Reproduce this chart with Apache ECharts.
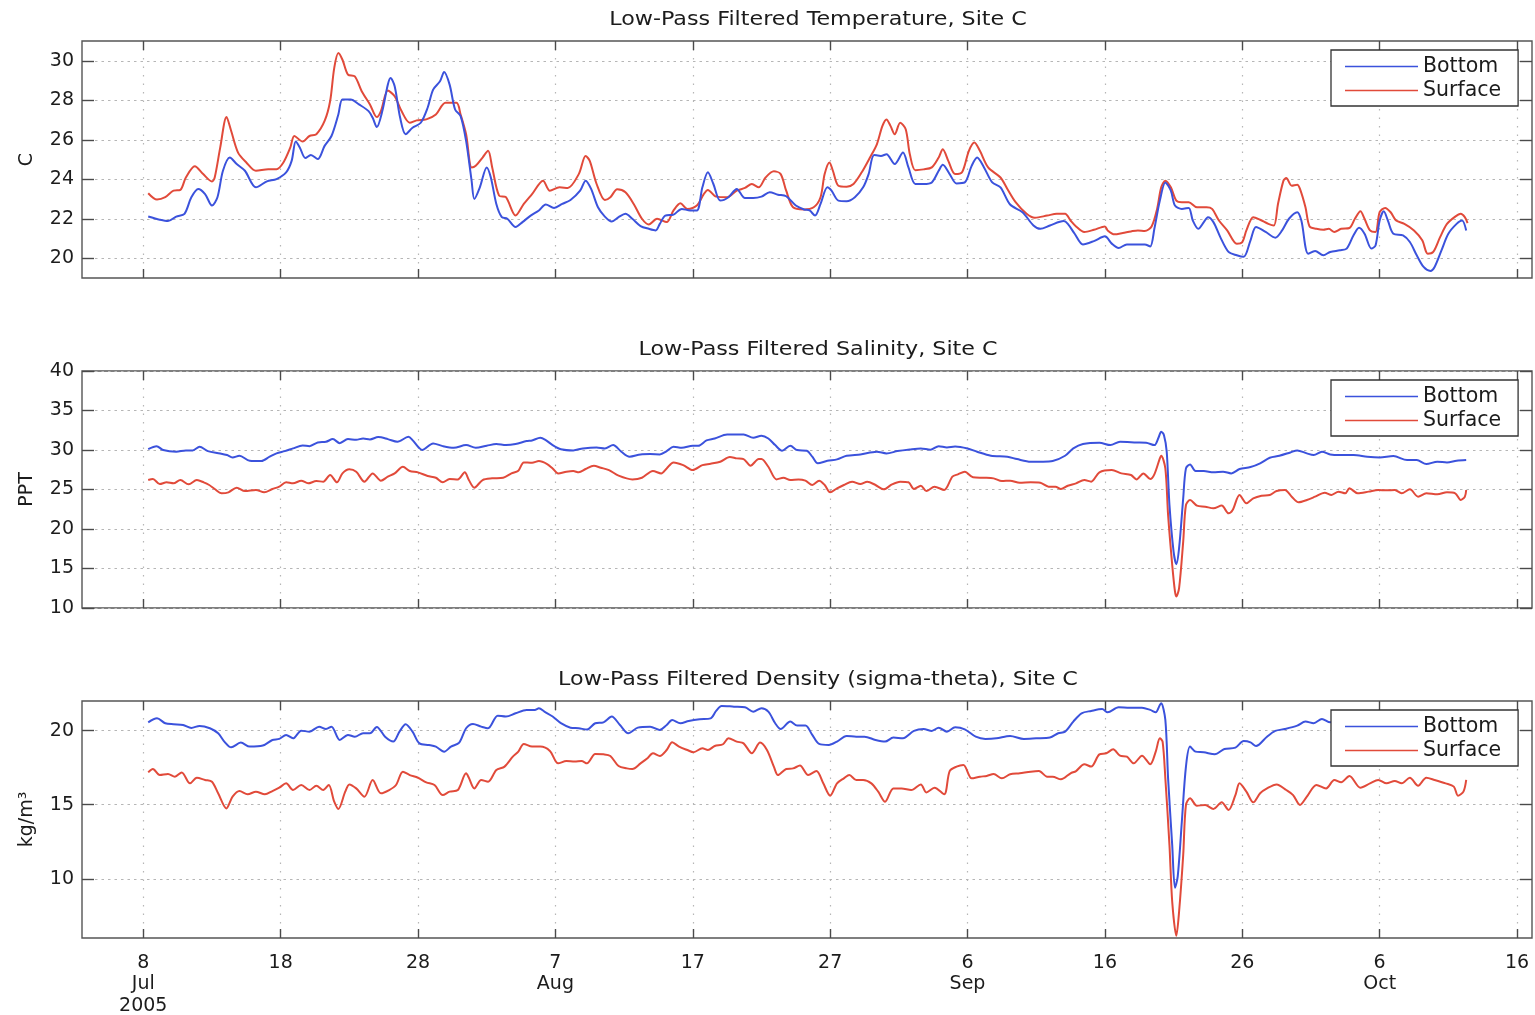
<!DOCTYPE html>
<html>
<head>
<meta charset="utf-8">
<script src="https://cdn.jsdelivr.net/npm/echarts@6/dist/echarts.min.js"></script>
<style>
  html, body { margin: 0; padding: 0; background: #fff; }
  #chart { width: 1535px; height: 1015px; }
</style>
</head>
<body>
<div id="chart"></div>
<script>
// Time is in days after 8 Jul 2005 00:00 (the first labelled tick).
const dayTicks = [0, 10, 20, 30, 40, 50, 60, 70, 80, 90, 100];
const dayTickLabels = ['8\nJul\n2005', '18', '28', '7\nAug', '17', '27', '6\nSep', '16', '26', '6\nOct', '16'];
const dayMin = -4.46, dayMax = 101.09;

const panelTitles = [
  'Low-Pass Filtered Temperature, Site C',
  'Low-Pass Filtered Salinity, Site C',
  'Low-Pass Filtered Density (sigma-theta), Site C'
];
const panelUnits = ['C', 'PPT', 'kg/m\u00b3'];
const tempTicks = [20, 22, 24, 26, 28, 30];
const salTicks = [10, 15, 20, 25, 30, 35, 40];
const densTicks = [10, 15, 20];
const seriesNames = ['Bottom', 'Surface'];

// Temperature (C)
const tempBottom = [
  [0.36,22.11],[1.2,21.95],[1.8,21.88],[2.4,22.11],[3.0,22.25],[3.5,23.09],[4.0,23.51],[4.5,23.25],[5.0,22.67],[5.4,23.09],
  [5.8,24.43],[6.3,25.1],[6.8,24.77],[7.4,24.43],[8.2,23.59],[9.0,23.89],[9.7,24.01],[10.4,24.35],[10.8,24.93],[11.1,25.91],
  [11.4,25.6],[11.8,25.07],[12.2,25.23],[12.7,25.02],[13.2,25.69],[13.7,26.19],[14.2,27.28],[14.5,28.04],[15.1,28.04],[15.7,27.79],
  [16.4,27.45],[16.7,27.11],[17.0,26.64],[17.4,27.45],[17.8,28.79],[18.0,29.13],[18.3,28.71],[18.7,27.11],[19.1,26.28],[19.6,26.61],
  [20.2,26.86],[20.7,27.62],[21.1,28.54],[21.6,28.96],[21.9,29.43],[22.3,28.79],[22.7,27.53],[23.1,27.2],[23.5,25.94],[23.9,23.93],
  [24.1,23.0],[24.5,23.59],[25.0,24.6],[25.3,24.09],[25.7,22.75],[26.1,22.08],[26.5,22.0],[27.1,21.58],[27.6,21.83],[28.2,22.16],
  [28.8,22.42],[29.3,22.72],[29.9,22.55],[30.5,22.75],[31.1,22.95],[31.8,23.42],[32.2,23.93],[32.6,23.51],[33.1,22.58],[33.6,22.11],
  [34.1,21.86],[34.6,22.08],[35.1,22.25],[35.6,22.0],[36.2,21.63],[36.8,21.49],[37.3,21.41],[37.6,21.74],[38.0,22.16],[38.6,22.21],
  [39.2,22.5],[39.8,22.42],[40.3,22.42],[40.7,23.59],[41.1,24.35],[41.5,23.76],[42.0,22.92],[42.6,23.09],[43.2,23.51],[43.8,23.05],
  [44.4,23.05],[45.0,23.12],[45.6,23.34],[46.2,23.22],[46.8,23.14],[47.5,22.67],[48.1,22.47],[48.5,22.42],[48.9,22.16],[49.3,22.75],
  [49.8,23.59],[50.1,23.42],[50.6,22.92],[51.2,22.89],[51.8,23.09],[52.4,23.59],[52.8,24.26],[53.2,25.23],[53.7,25.18],[54.1,25.27],
  [54.7,24.77],[55.3,25.35],[55.7,24.6],[56.2,23.76],[56.8,23.76],[57.4,23.84],[57.9,24.43],[58.2,24.73],[58.7,24.26],[59.2,23.79],
  [59.8,23.84],[60.3,24.68],[60.7,25.1],[61.2,24.6],[61.8,23.84],[62.4,23.59],[63.1,22.72],[64.0,22.33],[64.8,21.66],[65.3,21.49],
  [66.0,21.66],[67.0,21.88],[67.3,21.74],[67.8,21.24],[68.4,20.7],[69.2,20.87],[70.0,21.11],[70.5,20.74],[71.0,20.52],[71.6,20.7],
  [72.3,20.7],[72.9,20.7],[73.3,20.6],[73.6,21.49],[74.0,22.92],[74.4,23.84],[74.8,23.42],[75.1,22.67],[75.6,22.5],[76.1,22.55],
  [76.4,21.91],[76.8,21.49],[77.2,21.83],[77.5,22.08],[77.9,21.83],[78.4,21.07],[79.0,20.32],[79.6,20.15],[80.1,20.07],[80.6,20.91],
  [81.0,21.58],[81.7,21.33],[82.4,21.04],[82.9,21.41],[83.4,22.0],[84.0,22.33],[84.3,21.91],[84.8,20.23],[85.3,20.37],[85.9,20.15],
  [86.4,20.32],[87.1,20.4],[87.6,20.49],[88.1,21.16],[88.5,21.54],[88.9,21.24],[89.4,20.49],[89.7,20.65],[90.0,21.91],[90.3,22.38],
  [90.6,21.91],[91.0,21.24],[91.7,21.16],[92.2,20.82],[92.7,20.15],[93.2,19.56],[93.7,19.36],[94.0,19.56],[94.5,20.4],[95.0,21.24],
  [95.6,21.74],[96.0,21.91],[96.3,21.41]
];
const tempSurface = [
  [0.36,23.29],[1.0,22.97],[1.6,23.09],[2.2,23.42],[2.7,23.46],[3.1,24.09],[3.75,24.66],[4.36,24.26],[5.0,23.89],[5.2,24.09],
  [5.6,25.6],[6.06,27.15],[6.4,26.44],[6.9,25.35],[7.5,24.85],[8.2,24.43],[9.1,24.51],[9.7,24.51],[10.2,24.85],[10.7,25.6],
  [11.0,26.19],[11.6,25.91],[12.1,26.19],[12.6,26.28],[13.2,26.95],[13.6,27.95],[13.9,29.63],[14.2,30.39],[14.5,30.05],[14.9,29.3],
  [15.4,29.21],[15.9,28.46],[16.5,27.79],[17.0,27.15],[17.3,27.45],[17.8,28.49],[18.3,28.2],[18.8,27.45],[19.4,26.86],[19.9,26.98],
  [20.6,27.03],[21.3,27.28],[22.0,27.87],[22.8,27.87],[23.1,27.28],[23.5,26.28],[23.9,24.6],[24.2,24.68],[24.7,25.1],[25.1,25.44],
  [25.4,24.6],[25.9,23.17],[26.4,23.09],[27.1,22.16],[27.7,22.75],[28.3,23.25],[29.1,23.93],[29.6,23.42],[30.3,23.59],[30.9,23.56],
  [31.7,24.26],[32.2,25.18],[32.5,24.93],[33.0,23.76],[33.6,22.95],[34.0,23.09],[34.5,23.49],[35.1,23.34],[35.7,22.75],[36.3,22.0],
  [36.8,21.71],[37.4,22.0],[38.1,21.83],[38.6,22.42],[39.1,22.79],[39.6,22.5],[40.3,22.67],[40.8,23.25],[41.1,23.46],[41.7,23.12],
  [42.5,23.09],[43.2,23.42],[43.8,23.56],[44.3,23.76],[44.8,23.59],[45.3,24.09],[45.9,24.4],[46.4,24.26],[46.8,23.42],[47.3,22.58],
  [48.1,22.47],[48.8,22.58],[49.3,23.09],[49.6,24.26],[49.95,24.85],[50.2,24.43],[50.6,23.67],[51.2,23.62],[51.7,23.76],[52.3,24.35],
  [52.9,25.1],[53.4,25.77],[53.8,26.69],[54.1,27.03],[54.4,26.69],[54.7,26.28],[55.1,26.86],[55.5,26.53],[55.8,25.27],[56.2,24.46],
  [56.8,24.5],[57.4,24.6],[57.9,25.1],[58.2,25.52],[58.6,24.93],[59.1,24.26],[59.6,24.35],[60.1,25.44],[60.5,25.86],[60.9,25.44],
  [61.5,24.6],[62.4,24.09],[62.9,23.51],[63.5,22.84],[64.3,22.25],[64.9,22.05],[65.8,22.16],[66.5,22.25],[67.1,22.25],[67.5,21.91],
  [67.9,21.61],[68.5,21.33],[69.2,21.44],[70.0,21.61],[70.2,21.41],[70.7,21.21],[71.3,21.28],[71.9,21.36],[72.4,21.41],[72.9,21.38],
  [73.4,21.61],[73.8,22.5],[74.1,23.59],[74.4,23.93],[74.8,23.59],[75.2,22.92],[75.6,22.84],[76.1,22.84],[76.7,22.58],[77.4,22.58],
  [77.8,22.5],[78.3,21.91],[78.9,21.41],[79.6,20.74],[80.0,20.82],[80.3,21.41],[80.8,22.08],[81.3,21.95],[81.9,21.74],[82.3,21.66],
  [82.6,22.75],[83.0,23.93],[83.2,24.06],[83.6,23.67],[84.0,23.72],[84.2,23.51],[84.6,22.58],[84.9,21.61],[85.4,21.49],[85.9,21.44],
  [86.3,21.49],[86.7,21.33],[87.2,21.49],[87.8,21.53],[88.2,22.0],[88.6,22.38],[88.9,22.0],[89.3,21.41],[89.7,21.33],[90.0,22.33],
  [90.4,22.55],[90.8,22.33],[91.2,21.91],[91.8,21.74],[92.5,21.41],[93.1,20.91],[93.5,20.23],[93.9,20.32],[94.4,21.07],[94.9,21.74],
  [95.5,22.11],[95.9,22.25],[96.2,22.08],[96.4,21.78]
];

// Salinity (PPT)
const salBottom = [
  [0.36,30.12],[0.97,30.49],[1.45,29.99],[2.4,29.78],[3.1,29.95],[3.6,29.95],[4.1,30.41],[4.7,29.86],[5.6,29.57],[6.1,29.36],
  [6.5,29.06],[7.0,29.27],[7.75,28.64],[8.6,28.6],[9.2,29.15],[9.7,29.57],[10.3,29.86],[10.9,30.2],[11.6,30.58],[12.1,30.49],
  [12.7,30.96],[13.3,31.04],[13.8,31.38],[14.3,30.87],[14.9,31.38],[15.5,31.29],[16.0,31.46],[16.5,31.34],[17.1,31.63],[17.8,31.38],
  [18.5,31.04],[19.3,31.67],[19.6,31.25],[20.0,30.41],[20.3,29.99],[21.1,30.83],[21.8,30.49],[22.6,30.28],[23.5,30.62],[24.2,30.28],
  [25.0,30.54],[25.7,30.75],[26.4,30.62],[27.1,30.75],[27.9,31.13],[28.3,31.21],[28.9,31.55],[29.3,31.25],[29.8,30.62],[30.4,30.1],
  [31.3,29.95],[32.0,30.2],[33.0,30.33],[33.6,30.2],[34.2,30.62],[34.8,29.78],[35.4,29.15],[36.2,29.44],[36.9,29.48],[37.6,29.44],
  [38.1,29.86],[38.6,30.41],[39.2,30.28],[40.0,30.54],[40.4,30.54],[41.0,31.21],[41.6,31.46],[42.5,31.97],[43.7,31.97],[44.4,31.55],
  [45.0,31.8],[45.5,31.46],[46.0,30.62],[46.5,29.91],[47.1,30.54],[47.6,29.99],[48.3,29.91],[48.7,29.15],[49.1,28.31],[49.8,28.64],
  [50.5,28.81],[51.2,29.27],[52.2,29.44],[53.4,29.78],[54.1,29.57],[54.9,29.86],[55.8,30.07],[56.6,30.2],[57.3,30.03],[57.9,30.49],
  [58.5,30.33],[59.1,30.45],[60.0,30.2],[60.7,29.78],[61.7,29.27],[62.9,29.15],[63.6,28.85],[64.6,28.52],[65.5,28.52],[66.2,28.6],
  [67.1,29.27],[67.7,30.2],[68.4,30.75],[69.6,30.92],[70.4,30.62],[71.1,31.04],[72.3,30.96],[73.0,30.92],[73.6,30.62],[73.9,31.55],
  [74.1,32.31],[74.3,31.88],[74.5,29.78],[74.7,23.04],[75.0,17.15],[75.2,15.55],[75.4,17.57],[75.7,23.88],[75.9,27.67],[76.2,28.18],
  [76.6,27.34],[77.2,27.34],[77.9,27.17],[78.6,27.25],[79.2,27.04],[79.8,27.59],[80.6,27.84],[81.3,28.31],[82.0,29.02],[82.7,29.27],
  [83.5,29.69],[84.0,29.95],[84.7,29.57],[85.2,29.36],[85.8,29.78],[86.4,29.44],[87.1,29.36],[88.1,29.36],[89.1,29.15],[90.0,29.06],
  [91.0,29.23],[92.0,28.73],[92.7,28.73],[93.4,28.22],[94.2,28.52],[94.9,28.43],[95.6,28.64],[96.3,28.73]
];
const salSurface = [
  [0.36,26.2],[0.7,26.33],[1.2,25.69],[1.7,25.91],[2.2,25.78],[2.7,26.2],[3.3,25.65],[3.9,26.2],[4.4,25.91],[4.8,25.57],
  [5.2,25.06],[5.7,24.52],[6.2,24.64],[6.8,25.23],[7.4,24.81],[8.2,24.94],[8.8,24.64],[9.4,25.06],[9.9,25.36],[10.4,25.91],
  [10.9,25.78],[11.5,26.12],[12.0,25.78],[12.6,26.07],[13.1,25.99],[13.6,26.83],[14.1,25.91],[14.5,27.04],[15.0,27.55],[15.5,27.25],
  [16.1,25.99],[16.7,27.04],[17.3,26.12],[17.8,26.62],[18.3,27.04],[18.9,27.88],[19.4,27.34],[20.0,27.17],[20.7,26.71],[21.3,26.49],
  [21.8,25.91],[22.3,26.33],[22.9,26.28],[23.4,27.17],[23.7,26.2],[24.1,25.23],[24.7,26.2],[25.4,26.41],[26.2,26.49],[26.8,27.04],
  [27.3,27.38],[27.7,28.43],[28.3,28.39],[28.8,28.6],[29.4,28.22],[29.8,27.67],[30.2,27.04],[30.8,27.25],[31.3,27.34],[31.7,27.17],
  [32.2,27.59],[32.8,28.01],[33.3,27.76],[33.9,27.46],[34.6,26.75],[35.6,26.28],[36.3,26.49],[37.1,27.34],[37.7,27.04],[38.1,27.67],
  [38.6,28.43],[39.3,28.09],[40.0,27.46],[40.7,28.09],[41.3,28.26],[42.0,28.52],[42.7,29.11],[43.2,28.94],[43.7,28.85],[44.2,28.01],
  [44.8,28.85],[45.0,28.85],[45.5,27.88],[46.1,26.28],[46.6,26.49],[47.1,26.2],[47.7,26.28],[48.2,26.12],[48.7,25.57],[49.2,26.12],
  [49.6,25.57],[50.0,24.64],[50.5,25.15],[51.0,25.57],[51.6,25.99],[52.2,25.69],[52.7,25.99],[53.3,25.57],[53.9,25.02],[54.5,25.65],
  [55.1,25.99],[55.7,25.91],[56.1,25.06],[56.6,25.48],[57.0,24.81],[57.6,25.36],[58.3,24.94],[58.9,26.62],[59.3,26.92],[59.8,27.25],
  [60.4,26.54],[61.2,26.49],[61.9,26.41],[62.5,26.07],[63.1,26.12],[63.8,25.86],[64.6,25.91],[65.3,25.85],[65.9,25.36],[66.4,25.36],
  [66.8,25.06],[67.3,25.48],[67.9,25.78],[68.5,26.2],[69.0,25.99],[69.6,27.17],[70.5,27.46],[71.2,27.04],[71.9,26.83],[72.3,26.28],
  [72.8,27.04],[73.3,26.33],[73.6,26.92],[74.0,28.94],[74.1,29.27],[74.4,27.67],[74.6,21.78],[74.9,15.46],[75.1,12.09],[75.2,11.46],
  [75.4,12.51],[75.7,18.41],[75.9,23.04],[76.2,23.67],[76.7,22.96],[77.3,22.83],[77.9,22.62],[78.5,22.96],[79.0,21.99],[79.3,22.41],
  [79.8,24.31],[80.3,23.25],[80.8,23.88],[81.4,24.22],[82.0,24.31],[82.5,24.81],[83.1,24.94],[83.6,24.09],[84.1,23.38],[84.7,23.67],
  [85.3,24.09],[86.0,24.6],[86.5,24.31],[87.0,24.73],[87.5,24.52],[87.8,25.15],[88.4,24.52],[89.2,24.73],[89.9,24.94],[90.5,24.89],
  [91.1,24.94],[91.6,24.52],[92.2,25.02],[92.8,24.09],[93.4,24.52],[94.2,24.39],[94.9,24.64],[95.5,24.52],[95.9,23.67],[96.2,24.09],
  [96.3,24.94]
];

// Density, sigma-theta (kg/m3)
const densBottom = [
  [0.36,20.56],[1.0,20.83],[1.6,20.5],[2.2,20.43],[2.9,20.38],[3.5,20.18],[4.1,20.32],[4.85,20.16],[5.45,19.82],[5.9,19.26],
  [6.4,18.87],[7.1,19.19],[7.75,18.92],[8.7,18.99],[9.4,19.37],[9.9,19.44],[10.4,19.71],[10.9,19.48],[11.5,20.0],[12.1,19.93],
  [12.8,20.27],[13.3,20.11],[13.7,20.27],[14.3,19.37],[14.9,19.71],[15.4,19.59],[16.0,19.82],[16.5,19.82],[17.0,20.25],[17.6,19.59],
  [18.2,19.26],[18.65,19.93],[19.1,20.43],[19.6,19.93],[20.1,19.14],[20.8,19.03],[21.3,18.92],[21.9,18.58],[22.4,18.92],[23.0,19.19],
  [23.5,20.16],[24.0,20.45],[24.6,20.27],[25.1,20.16],[25.8,21.01],[26.4,20.95],[27.1,21.17],[27.9,21.4],[28.5,21.4],[28.8,21.51],
  [29.2,21.28],[29.8,20.95],[30.4,20.5],[31.1,20.2],[31.7,20.16],[32.3,20.07],[32.9,20.5],[33.5,20.56],[34.1,20.95],[34.7,20.38],
  [35.3,19.82],[36.0,20.2],[36.9,20.27],[37.6,20.05],[38.1,20.38],[38.5,20.72],[39.1,20.5],[39.7,20.65],[40.5,20.77],[41.3,20.83],
  [41.7,21.33],[42.1,21.67],[43.0,21.62],[43.8,21.58],[44.4,21.28],[45.0,21.51],[45.5,21.28],[46.0,20.5],[46.4,20.11],[47.1,20.61],
  [47.6,20.34],[48.2,20.34],[48.7,19.71],[49.2,19.1],[49.9,19.03],[50.5,19.26],[51.2,19.64],[51.9,19.59],[52.5,19.59],[53.3,19.37],
  [54.0,19.26],[54.6,19.53],[55.3,19.48],[56.1,19.98],[56.8,20.11],[57.4,19.98],[57.9,20.2],[58.5,19.93],[59.1,20.23],[59.8,20.09],
  [60.6,19.59],[61.3,19.44],[62.1,19.48],[63.1,19.64],[64.1,19.44],[65.0,19.48],[66.0,19.53],[66.6,19.82],[67.1,19.93],[67.7,20.61],
  [68.3,21.17],[69.0,21.33],[69.8,21.46],[70.2,21.24],[71.0,21.58],[71.8,21.55],[72.7,21.55],[73.3,21.4],[73.7,21.24],[74.0,21.73],
  [74.1,21.85],[74.4,20.72],[74.6,16.78],[74.9,12.27],[75.1,9.39],[75.3,10.14],[75.6,13.85],[75.9,17.57],[76.2,18.92],[76.6,18.58],
  [77.2,18.54],[78.0,18.4],[78.7,18.76],[79.5,18.85],[80.1,19.3],[80.6,19.21],[81.0,18.96],[81.8,19.59],[82.4,19.98],[83.1,20.11],
  [84.0,20.34],[84.6,20.61],[85.2,20.5],[85.8,20.79],[86.4,20.56],[87.2,20.7],[88.0,20.6],[89.0,20.7],[90.0,20.6],[91.0,20.7],
  [92.0,20.5],[93.0,20.4],[94.0,20.5],[95.0,20.6],[96.3,20.6]
];
const densSurface = [
  [0.36,17.18],[0.7,17.41],[1.2,17.0],[1.8,17.07],[2.3,16.89],[2.8,17.18],[3.4,16.44],[3.9,16.82],[4.5,16.67],[5.0,16.55],
  [5.45,15.77],[6.05,14.75],[6.5,15.54],[7.0,15.92],[7.6,15.7],[8.2,15.88],[8.85,15.7],[9.4,15.92],[9.9,16.15],[10.4,16.44],
  [10.9,15.99],[11.5,16.33],[12.1,15.99],[12.6,16.28],[13.1,15.99],[13.5,16.33],[13.9,15.2],[14.2,14.71],[14.7,15.88],[15.0,16.37],
  [15.5,16.1],[16.1,15.54],[16.7,16.67],[17.3,15.77],[17.9,15.99],[18.4,16.33],[18.9,17.23],[19.4,17.0],[20.0,16.82],[20.6,16.51],
  [21.2,16.33],[21.8,15.65],[22.3,15.88],[22.9,15.99],[23.5,17.12],[23.7,16.82],[24.1,16.1],[24.6,16.67],[25.1,16.55],[25.7,17.34],
  [26.3,17.57],[26.9,18.24],[27.3,18.58],[27.7,19.1],[28.3,18.92],[28.9,18.92],[29.6,18.63],[30.2,17.79],[30.8,17.95],[31.4,17.91],
  [31.9,17.95],[32.3,17.79],[32.9,18.42],[33.5,18.4],[34.0,18.29],[34.6,17.61],[35.2,17.45],[35.6,17.41],[36.2,17.79],[36.7,18.13],
  [37.1,18.47],[37.6,18.29],[38.1,18.69],[38.5,19.21],[39.0,18.92],[39.6,18.69],[40.05,18.54],[40.7,18.81],[41.1,18.69],[41.6,18.96],
  [42.2,19.08],[42.6,19.48],[43.2,19.26],[43.7,19.14],[44.3,18.47],[44.9,19.19],[45.4,18.69],[45.9,17.57],[46.2,17.0],[46.8,17.41],
  [47.3,17.45],[47.8,17.64],[48.4,17.0],[49.0,17.27],[49.5,16.44],[50.0,15.61],[50.5,16.44],[51.0,16.78],[51.4,17.0],[51.9,16.67],
  [52.4,16.67],[53.0,16.44],[53.5,15.88],[54.0,15.2],[54.6,16.1],[55.2,16.1],[55.9,15.99],[56.6,16.37],[57.0,15.83],[57.6,16.15],
  [58.3,15.7],[58.7,17.27],[59.2,17.57],[59.7,17.68],[60.3,16.78],[60.9,16.89],[61.4,16.94],[61.9,17.07],[62.5,16.78],[63.1,17.05],
  [63.8,17.12],[64.6,17.23],[65.2,17.27],[65.8,16.89],[66.2,16.89],[66.8,16.71],[67.5,17.12],[67.9,17.27],[68.5,17.73],[69.0,17.57],
  [69.6,18.4],[70.1,18.47],[70.6,18.74],[71.1,18.31],[71.6,18.24],[72.1,17.79],[72.7,18.31],[73.3,17.73],[73.7,18.58],[74.0,19.48],
  [74.2,19.26],[74.4,16.78],[74.7,12.27],[74.9,8.45],[75.2,6.15],[75.4,7.77],[75.7,11.6],[75.9,14.98],[76.2,15.43],[76.7,14.93],
  [77.3,14.98],[77.9,14.71],[78.5,15.16],[79.0,14.64],[79.5,15.65],[79.8,16.44],[80.3,15.88],[80.8,15.16],[81.3,15.77],[81.8,16.1],
  [82.5,16.37],[83.2,15.99],[83.7,15.65],[84.2,14.98],[84.7,15.54],[85.4,16.33],[86.1,16.1],[86.7,16.67],[87.2,16.51],[87.8,16.94],
  [88.6,16.15],[89.3,16.44],[89.9,16.67],[90.5,16.44],[91.1,16.6],[91.6,16.44],[92.2,16.82],[92.8,16.28],[93.4,16.82],[94.0,16.67],
  [94.8,16.44],[95.4,16.22],[95.7,15.61],[96.1,15.88],[96.3,16.67]
];

const panelData = [
  [tempBottom, tempSurface],
  [salBottom, salSurface],
  [densBottom, densSurface]
];
const panelRanges = [[19, 31], [10, 40], [6, 22]];
const panelTicks = [tempTicks, salTicks, densTicks];

// ---- layout & style ----
const FONT = 'DejaVu Sans';
const TEXT = '#1c1c1c';
const BLUE = '#3b52dc';
const RED = '#e14a3a';
const GRID_TOPS = [41, 371, 701];
const PLOT_LEFT = 82, PLOT_W = 1450, PLOT_H = 237;
const TICK_COLOR = '#4a4a4a';
const DOT_COLOR = '#b6b6b6';

// Fixed plot boxes: labels may sit close to the page edge without shrinking them.
const grids = GRID_TOPS.map(top => ({
  left: PLOT_LEFT, top: top, width: PLOT_W, height: PLOT_H,
  outerBoundsMode: 'none', containLabel: false,
  show: true, borderColor: '#555', borderWidth: 1.4, backgroundColor: '#fff'
}));

const xAxes = [];
const yAxes = [];
for (let i = 0; i < 3; i++) {
  const isLast = i === 2;
  // bottom time axis
  xAxes.push({
    type: 'value', gridIndex: i, position: 'bottom', min: dayMin, max: dayMax,
    axisLine: { show: false, onZero: false },
    axisTick: { show: true, inside: true, length: 9, customValues: dayTicks,
                lineStyle: { color: TICK_COLOR, width: 1.4 } },
    axisLabel: {
      show: isLast, customValues: dayTicks, margin: 14,
      fontFamily: FONT, fontSize: 19, color: TEXT, lineHeight: 21.5,
      formatter: v => dayTickLabels[dayTicks.indexOf(Math.round(v))] || ''
    },
    splitLine: { show: true, lineStyle: { type: [1.5, 7], color: DOT_COLOR, width: 1.2 } }
  });
  // left value axis
  yAxes.push({
    type: 'value', gridIndex: i, position: 'left',
    min: panelRanges[i][0], max: panelRanges[i][1],
    name: panelUnits[i], nameLocation: 'middle', nameRotate: 90, nameGap: 45,
    nameTextStyle: { fontFamily: FONT, fontSize: 19, color: TEXT },
    axisLine: { show: false, onZero: false },
    axisTick: { show: true, inside: true, length: 12, customValues: panelTicks[i],
                lineStyle: { color: TICK_COLOR, width: 1.4 } },
    axisLabel: { customValues: panelTicks[i], margin: 8, fontFamily: FONT, fontSize: 19, color: TEXT },
    splitLine: { show: true, lineStyle: { type: [2.5, 4], color: DOT_COLOR, width: 1.2 } }
  });
}
for (let i = 0; i < 3; i++) {
  // ticks along the top edge
  xAxes.push({
    type: 'value', gridIndex: i, position: 'top', min: dayMin, max: dayMax,
    axisLine: { show: false, onZero: false },
    axisTick: { show: true, inside: true, length: 9, customValues: dayTicks,
                lineStyle: { color: TICK_COLOR, width: 1.4 } },
    axisLabel: { show: false }, splitLine: { show: false }
  });
  // ticks along the right edge
  yAxes.push({
    type: 'value', gridIndex: i, position: 'right',
    min: panelRanges[i][0], max: panelRanges[i][1],
    axisLine: { show: false, onZero: false },
    axisTick: { show: true, inside: true, length: 12, customValues: panelTicks[i],
                lineStyle: { color: TICK_COLOR, width: 1.4 } },
    axisLabel: { show: false }, splitLine: { show: false }
  });
}

const series = [];
panelData.forEach((pair, i) => {
  pair.forEach((data, k) => {
    series.push({
      name: seriesNames[k], type: 'line', xAxisIndex: i, yAxisIndex: i,
      data: data, symbol: 'none', smooth: 0.3,
      lineStyle: { color: k === 0 ? BLUE : RED, width: 2 },
      itemStyle: { color: k === 0 ? BLUE : RED },
      z: k === 0 ? 3 : 2
    });
  });
});

// Legend keys are drawn as thin bars so they read as plain line samples.
const legends = GRID_TOPS.map(top => ({
  data: seriesNames.map(n => ({ name: n, icon: 'rect' })),
  orient: 'vertical', align: 'left',
  left: 1331, top: top + 9,
  padding: [6, 17, 5, 14], itemGap: 3,
  itemWidth: 73, itemHeight: 1.3,
  backgroundColor: '#fff', borderColor: '#333', borderWidth: 1.3,
  textStyle: { fontFamily: FONT, fontSize: 20.5, color: TEXT, lineHeight: 21 },
  selectedMode: false
}));

const titleY = [20, 350, 680];
const graphic = panelTitles.map((t, i) => ({
  type: 'text', x: 818, y: titleY[i], scaleX: 1.17, silent: true,
  style: { text: t, fontFamily: FONT, fontSize: 19, fill: TEXT, align: 'center', verticalAlign: 'middle' }
}));

const chart = echarts.init(document.getElementById('chart'), null, { renderer: 'canvas' });
chart.setOption({
  animation: false,
  backgroundColor: '#fff',
  grid: grids,
  xAxis: xAxes,
  yAxis: yAxes,
  legend: legends,
  graphic: graphic,
  series: series
});
</script>
</body>
</html>
